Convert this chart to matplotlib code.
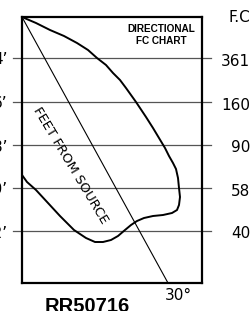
import matplotlib
matplotlib.use("Agg")
import matplotlib.pyplot as plt

# ---- data ----
feet_labels = ["4’", "6’", "8’", "10’", "12’"]
fc_labels = ["361", "160", "90", "58", "40"]
row_levels = [41, 85, 128, 171, 214]          # chart units (top = 0)

curve_x = [0, 14, 28, 42, 55, 66, 75, 84, 91, 98, 104, 114, 124, 131, 137, 143, 147,
           151, 154, 156, 157, 158, 157, 155, 150, 141, 131, 122, 115, 109, 103, 96,
           89, 81, 73, 64, 52, 38, 26, 14, 5, 0]
curve_y = [0, 6, 13, 19, 26, 33, 41, 48, 56, 63, 71, 85, 100, 111, 121, 131, 139,
           146, 152, 161, 171, 180, 188, 193, 196, 198, 199, 201, 204, 208, 213, 219,
           223, 225, 225, 221, 213, 199, 186, 173, 165, 158]

diag_x = [0, 146]
diag_y = [0, 266]

angle_label = "30°"
chart_title = "DIRECTIONAL\nFC CHART"
axis_label = "FEET FROM SOURCE"
unit_label = "F.C"
code_label = "RR50716"

# ---- figure ----
W, H = 252, 311
fig = plt.figure(figsize=(W / 100, H / 100), dpi=100)
ax = fig.add_axes([22 / W, (H - 283) / H, 180 / W, 266 / H])
ax.set_xlim(0, 180)
ax.set_ylim(266, 0)
ax.set_xticks([])
ax.set_yticks([])
for s in ax.spines.values():
    s.set_linewidth(1.6)
    s.set_color("black")

for y in row_levels:
    ax.plot([-9, 189], [y, y], color="#555555", lw=0.9, clip_on=False, zorder=1)

ax.plot(diag_x, diag_y, color="black", lw=0.8, zorder=2)
ax.plot(curve_x, curve_y, color="black", lw=1.4, zorder=3, solid_joinstyle="round")

for y, lab in zip(row_levels, fc_labels):
    ax.text(228, y + 3, lab, ha="right", va="center", fontsize=11,
            family="DejaVu Sans", clip_on=False)
for y, lab in zip(row_levels, feet_labels):
    ax.text(-14.5, y + 2, lab, ha="right", va="center", fontsize=11,
            family="DejaVu Sans", clip_on=False)

ax.text(228, 1, unit_label, ha="right", va="center", fontsize=11,
        family="DejaVu Sans", clip_on=False)
ax.text(139, 7, chart_title, ha="center", va="top", fontsize=7.2,
        fontweight="bold", family="Liberation Sans", linespacing=1.2)
ax.text(48, 148, axis_label, ha="center", va="center", rotation=-59,
        rotation_mode="anchor", fontsize=9.5, family="DejaVu Sans")
ax.text(156, 279, angle_label, ha="center", va="center", fontsize=11,
        family="DejaVu Sans", clip_on=False)
ax.text(23, 295.5, code_label, ha="left", va="baseline", fontsize=14.5,
        fontweight="bold", family="Liberation Sans", clip_on=False)

fig.savefig("out.png", dpi=100)
